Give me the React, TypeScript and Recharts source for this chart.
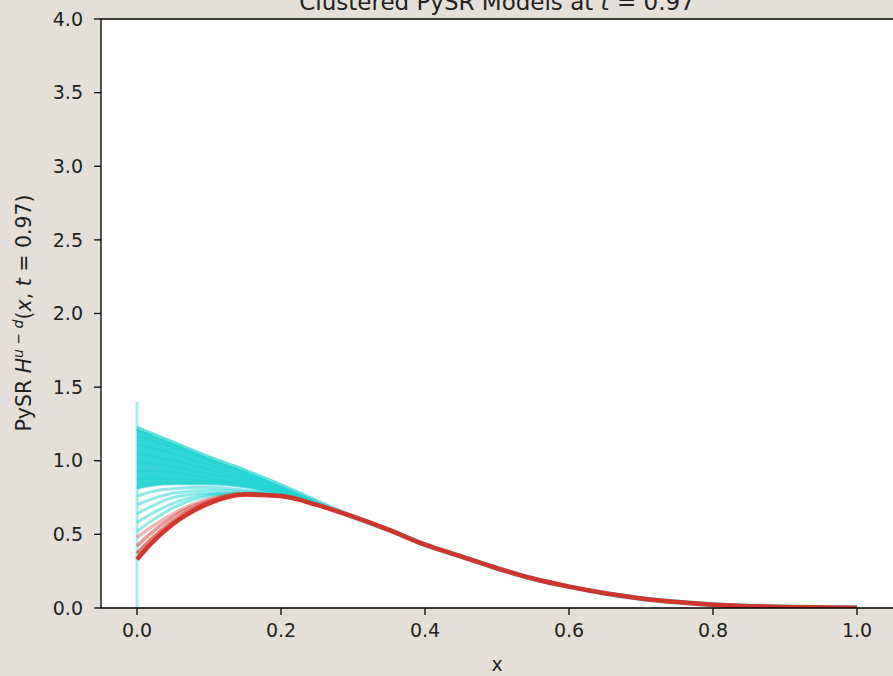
import { ComposedChart, Line, Area, XAxis, YAxis, CartesianGrid, ReferenceLine } from 'recharts'

const FONT = '"DejaVu Sans", sans-serif'
const BG = '#e4e0d9'
const CYAN = '#22d3d3'
const RED = '#d2352b'

// x positions for the left part of the curves, where the models disagree
const xHead = [0, 0.02, 0.05, 0.1, 0.15, 0.2, 0.25]
// x positions for the shared tail, where every model collapses onto one curve
const xTail = [0.3, 0.35, 0.4, 0.45, 0.5, 0.55, 0.6, 0.65, 0.7, 0.75, 0.8, 0.85, 0.9, 0.95, 1.0]
const tailValues = [0.62, 0.53, 0.43, 0.35, 0.27, 0.2, 0.145, 0.1, 0.065, 0.04, 0.022, 0.012, 0.006, 0.003, 0.001]

// cyan cluster, read from the fan on the left
const cyan1 = [1.22, 1.18, 1.12, 1.02, 0.93, 0.83, 0.72]
const cyan2 = [1.17, 1.14, 1.09, 1.0, 0.91, 0.82, 0.72]
const cyan3 = [1.11, 1.09, 1.05, 0.97, 0.89, 0.81, 0.71]
const cyan4 = [1.05, 1.03, 1.0, 0.94, 0.87, 0.8, 0.71]
const cyan5 = [0.99, 0.98, 0.96, 0.91, 0.86, 0.79, 0.71]
const cyan6 = [0.93, 0.93, 0.92, 0.88, 0.84, 0.78, 0.71]
const cyan7 = [0.87, 0.88, 0.88, 0.86, 0.83, 0.78, 0.71]
const cyan8 = [0.81, 0.83, 0.84, 0.84, 0.82, 0.77, 0.7]
const cyan9 = [0.76, 0.79, 0.81, 0.82, 0.8, 0.77, 0.7]
const cyan10 = [0.7, 0.74, 0.78, 0.8, 0.79, 0.77, 0.7]
const cyan11 = [0.64, 0.69, 0.75, 0.78, 0.78, 0.76, 0.7]
const cyan12 = [0.58, 0.64, 0.71, 0.77, 0.78, 0.76, 0.7]
const cyan13 = [0.52, 0.59, 0.68, 0.76, 0.78, 0.76, 0.7]
const cyanSpike = [0, 1.4]

// red cluster
const red1 = [0.33, 0.44, 0.57, 0.71, 0.77, 0.76, 0.7]
const red2 = [0.37, 0.47, 0.59, 0.72, 0.77, 0.76, 0.7]
const red3 = [0.42, 0.51, 0.62, 0.73, 0.775, 0.76, 0.7]
const red4 = [0.48, 0.55, 0.64, 0.74, 0.775, 0.76, 0.7]

const xTicks = [0, 0.2, 0.4, 0.6, 0.8, 1.0]
const yTicks = [0, 0.5, 1.0, 1.5, 2.0, 2.5, 3.0, 3.5, 4.0]

const curve = (head: number[]) =>
  [...xHead.map((x, i) => ({ x, y: head[i] })), ...xTail.map((x, i) => ({ x, y: tailValues[i] }))]

const cyanCurves = [cyan1, cyan2, cyan3, cyan4, cyan5, cyan6, cyan7, cyan8, cyan9, cyan10, cyan11, cyan12, cyan13]
const redCurves = [red4, red3, red2]
const band = xHead.map((x, i) => ({ x, band: [cyan8[i], cyan1[i]] }))
const spike = cyanSpike.map((y) => ({ x: 0, y }))

export default function App() {
  const tick = { fill: '#222', fontSize: 19, fontFamily: FONT }
  return (
    <div style={{ position: 'absolute', left: 0, top: 0, width: 893, height: 676, background: BG, overflow: 'hidden' }}>
      <ComposedChart width={893} height={676} margin={{ top: 19, right: 0, bottom: 0, left: 0 }}>
        <CartesianGrid fill="#fff" horizontal={false} vertical={false} />
        <XAxis
          dataKey="x"
          type="number"
          domain={[-0.05, 1.05]}
          ticks={xTicks}
          interval={0}
          allowDataOverflow
          height={68}
          tickSize={7}
          tickMargin={9}
          tick={tick}
          tickFormatter={(v: number) => v.toFixed(1)}
          axisLine={{ stroke: '#000', strokeWidth: 1.3 }}
          tickLine={{ stroke: '#000', strokeWidth: 1.3 }}
        />
        <YAxis
          type="number"
          domain={[0, 4]}
          ticks={yTicks}
          interval={0}
          allowDataOverflow
          width={101}
          tickSize={7}
          tickMargin={11}
          tick={tick}
          tickFormatter={(v: number) => v.toFixed(1)}
          axisLine={{ stroke: '#000', strokeWidth: 1.3 }}
          tickLine={{ stroke: '#000', strokeWidth: 1.3 }}
        />
        <ReferenceLine y={4} stroke="#000" strokeWidth={1.3} />
        <Area
          data={band}
          dataKey="band"
          type="monotone"
          stroke="none"
          fill={CYAN}
          fillOpacity={0.92}
          isAnimationActive={false}
        />
        <Line
          data={spike}
          dataKey="y"
          type="linear"
          stroke={CYAN}
          strokeOpacity={0.4}
          strokeWidth={3}
          dot={false}
          isAnimationActive={false}
        />
        {cyanCurves.map((c, i) => (
          <Line
            key={'c' + i}
            data={curve(c)}
            dataKey="y"
            type="monotone"
            stroke={CYAN}
            strokeOpacity={i < 8 ? 0.7 : 0.5}
            strokeWidth={i === 0 ? 5 : i < 8 ? 2 : 3}
            dot={false}
            isAnimationActive={false}
          />
        ))}
        {redCurves.map((c, i) => (
          <Line
            key={'r' + i}
            data={curve(c)}
            dataKey="y"
            type="monotone"
            stroke={RED}
            strokeOpacity={0.35 + i * 0.15}
            strokeWidth={3.5}
            dot={false}
            isAnimationActive={false}
          />
        ))}
        <Line
          data={curve(red1)}
          dataKey="y"
          type="monotone"
          stroke={RED}
          strokeWidth={4.5}
          dot={false}
          isAnimationActive={false}
        />
      </ComposedChart>
      <svg width={893} height={676} style={{ position: 'absolute', left: 0, top: 0, pointerEvents: 'none' }}>
        <text x={497} y={10} textAnchor="middle" fontFamily={FONT} fontSize={23} fill="#222">
          Clustered PySR Models at <tspan fontStyle="italic">t</tspan> = 0.97
        </text>
        <text x={497} y={671} textAnchor="middle" fontFamily={FONT} fontSize={19} fill="#222">
          x
        </text>
        <text
          transform="translate(31,313) rotate(-90)"
          textAnchor="middle"
          fontFamily={FONT}
          fontSize={20.5}
          fill="#222"
        >
          PySR <tspan fontStyle="italic">H</tspan>
          <tspan fontSize={14} dy={-8}>
            <tspan fontStyle="italic">u</tspan> − <tspan fontStyle="italic">d</tspan>
          </tspan>
          <tspan dy={8}>(</tspan>
          <tspan fontStyle="italic">x</tspan>, <tspan fontStyle="italic">t</tspan> = 0.97)
        </text>
      </svg>
    </div>
  )
}
